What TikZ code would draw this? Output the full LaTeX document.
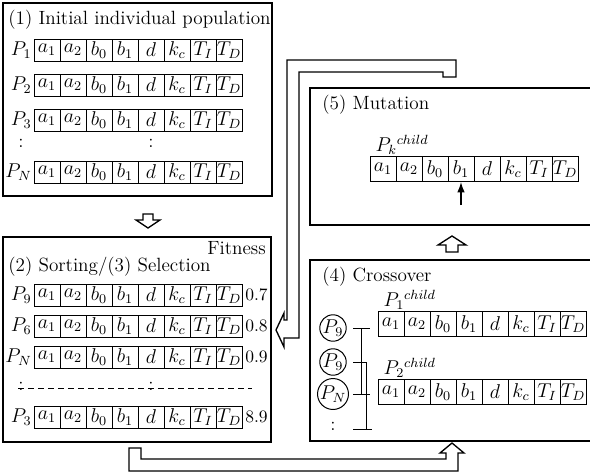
\documentclass[tikz,border=0pt]{standalone}
\usepackage{tikz}
\usetikzlibrary{arrows.meta,calc}

% one chromosome: #1 name prefix, #2 left x, #3 centre y, #4 cell style
\newcommand{\generow}[4]{%
  \foreach \gn [count=\i] in {a_1,a_2,b_0,b_1,d,k_c,T_I,T_D}
    \node[#4] (#1\i) at ({#2+13+26*(\i-1)},#3) {$\gn$};}

\begin{document}
\begin{tikzpicture}[x=0.6pt,y=-0.6pt,>={Latex[length=2.2mm,width=1.6mm]},
  font=\fontsize{11.5}{13}\selectfont,
  panel/.style={draw,line width=0.9pt},
  gene/.style={draw,line width=0.6pt,minimum width=15.6pt,minimum height=13.2pt,inner sep=0pt},
  genetall/.style={gene,minimum height=15pt},
  hollow/.style={draw,line width=0.8pt,fill=white,line join=miter},
  tag/.style={anchor=east,inner sep=1pt},
  head/.style={anchor=west,inner sep=0pt},
  kid/.style={anchor=south west,inner sep=0.5pt},
  parent/.style={draw,circle,minimum size=15pt,inner sep=0pt,line width=0.6pt},
  score/.style={anchor=west,inner sep=1.5pt,font=\fontsize{10.5}{12}\selectfont},
  bar/.style={line width=0.6pt}]
\useasboundingbox (0,0) rectangle (590,475);

% (1) initial population
\draw[panel] (3,3) rectangle (272,196);
\node[head] (t1) at (8,20) {(1) Initial individual population};
\generow{ra}{34}{50}{gene}
\generow{rb}{34}{85}{gene}
\generow{rc}{34}{120}{gene}
\generow{rn}{34}{172}{gene}
\node[tag] (pa) at (ra1.west) {$P_1$};
\node[tag] (pb) at (rb1.west) {$P_2$};
\node[tag] (pc) at (rc1.west) {$P_3$};
\node[tag] (pn) at (rn1.west) {$P_N$};
\node (da) at (21,143) {:};
\node (db) at (151,143) {:};

% (2)/(3) sorting and selection
\draw[panel] (3,237) rectangle (271,442);
\node[anchor=east,inner sep=0pt] (fitness) at (266,248) {Fitness};
\node[head] (t2) at (8,267) {(2) Sorting/(3) Selection};
\generow{sa}{34}{295}{gene}
\generow{sb}{34}{326}{gene}
\generow{sc}{34}{357}{gene}
\generow{sd}{34}{417}{gene}
\node[tag] (qa) at (sa1.west) {$P_9$};
\node[tag] (qb) at (sb1.west) {$P_6$};
\node[tag] (qc) at (sc1.west) {$P_N$};
\node[tag] (qd) at (sd1.west) {$P_3$};
\node[score] (fa) at (sa8.east) {0.7};
\node[score] (fb) at (sb8.east) {0.8};
\node[score] (fc) at (sc8.east) {0.9};
\node[score] (fd) at (sd8.east) {8.9};
\draw[dashed,dash pattern=on 3.5pt off 2.5pt,line width=0.5pt] (18,388) -- (252,388);
\node (dc) at (21,386) {:};
\node (dd) at (151,386) {:};

% (5) mutation
\draw[panel] (590,88) -| (310,225) -- (590,225);
\node[head] (t5) at (322,105) {(5) Mutation};
\generow{mu}{370}{169}{genetall}
\node[kid] (pk) at ([xshift=3pt]mu1.north west) {$P_k{}^{child}$};
\coordinate (hit) at (461,205);
\draw[->,line width=0.8pt] (hit) -- (mu4.south);

% (4) crossover
\draw[panel] (590,260) -| (310,441) -- (590,441);
\node[head] (t4) at (322,277) {(4) Crossover};
\generow{ca}{378}{324}{genetall}
\generow{cb}{378}{392}{genetall}
\node[kid] (k1) at ([xshift=3pt]ca1.north west) {$P_1{}^{child}$};
\node[kid] (k2) at ([xshift=3pt]cb1.north west) {$P_2{}^{child}$};
\node[parent] (c1) at (333,328) {$P_9$};
\node[parent] (c2) at (333,362) {$P_9$};
\node[parent] (c3) at (333,394) {$P_N$};
\node (c4) at (333,426) {:};
\draw[bar] (c1.east -| 353,0) -- (c1.east -| 370,0);
\draw[bar] (c1.east -| 361,0) -- (c3.east -| 361,0);
\draw[bar] (c3.east -| 353,0) -- (c3.east -| 370,0);
\draw[bar] (c2.east -| 353,0) -- (c2.east -| 366,0) -- ([yshift=-2pt]c4.east -| 366,0);
\draw[bar] ([yshift=-2pt]c4.east -| 353,0) -- ([yshift=-2pt]c4.east -| 372,0);

% hollow arrows between the stages
\draw[hollow] (143,214) -- (153,214) -- (153,220) -- (160,220) -- (148,228) -- (136,220) -- (143,220) -- cycle;
\draw[hollow] (446,252) -- (458,252) -- (458,245) -- (466,245) -- (452,236) -- (438,245) -- (446,245) -- cycle;
\draw[hollow] (129,448) -- (129,471) -- (458,471) -- (458,453) -- (464,453) -- (452,443)
  -- (440,453) -- (446,453) -- (446,459) -- (141,459) -- (141,448) -- cycle;
\draw[hollow] (456,60) -- (287,60) -- (287,320) -- (284,320) -- (284,313) -- (276,330) -- (284,347)
  -- (284,338) -- (299,338) -- (299,72) -- (443,72) -- (443,77) -- (456,77) -- cycle;
\end{tikzpicture}
\end{document}
